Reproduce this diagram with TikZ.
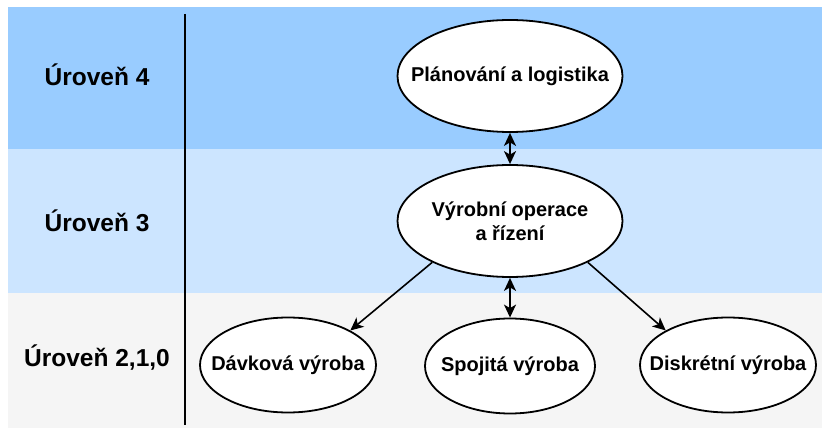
\documentclass[tikz,border=0pt]{standalone}
\usepackage{fontspec}
\setmainfont{Liberation Sans}
\usetikzlibrary{shapes.geometric,arrows.meta}
\definecolor{bandtop}{HTML}{99CCFF}
\definecolor{bandmid}{HTML}{CCE5FF}
\definecolor{bandlow}{HTML}{F5F5F5}
\tikzset{
  levellabel/.style={font=\bfseries\fontsize{24.5}{28}\selectfont, anchor=center},
  unit/.style={ellipse, draw=black, line width=1.8pt, fill=white, inner sep=0pt},
  unittext/.style={align=center, inner sep=0pt, font=\bfseries\fontsize{20}{24}\selectfont},
  >={Stealth[length=13pt,width=12pt,inset=3.5pt]},
  link/.style={line width=1.6pt, ->},
  duplex/.style={line width=1.6pt, <->},
}
\begin{document}
\begin{tikzpicture}[x=1pt,y=-1pt]
  \useasboundingbox (0,0) rectangle (822,430);
  % level bands
  \fill[bandtop] (8,7) rectangle (822,149);
  \fill[bandmid] (8,149) rectangle (822,293);
  \fill[bandlow] (8,293) rectangle (822,428);
  % separator between labels and diagram
  \coordinate (septop) at (185,14);
  \coordinate (sepbot) at (185,425);
  \draw[line width=1.6pt] (septop) -- (sepbot);
  % level labels
  \node[levellabel] (l4) at (97,75) {Úroveň 4};
  \node[levellabel] (l3) at (97,221) {Úroveň 3};
  \node[levellabel] (l2) at (97,358) {Úroveň 2,1,0};
  % units
  \node[unit, minimum width=225pt, minimum height=112pt] (plan) at (510,76) {};
  \node[unit, minimum width=225pt, minimum height=112pt] (ops) at (510,221) {};
  \node[unit, minimum width=176pt, minimum height=95pt] (batch) at (288,365) {};
  \node[unit, minimum width=170pt, minimum height=95pt] (cont) at (510,366) {};
  \node[unit, minimum width=176pt, minimum height=95pt] (disc) at (728,365) {};
  \node[unittext] (plantext) at (plan) {Plánování a logistika};
  \node[unittext] (opstext) at (ops) {Výrobní operace\\a řízení};
  \node[unittext] (batchtext) at (batch) {Dávková výroba};
  \node[unittext] (conttext) at (cont) {Spojitá výroba};
  \node[unittext] (disctext) at (disc) {Diskrétní výroba};
  % connectors
  \draw[duplex] (plan.south) -- (ops.north);
  \draw[duplex] (ops.south) -- (cont.north);
  \draw[link] (ops.208) -- (batch.29);
  \draw[link] (ops.332) -- (disc.151);
\end{tikzpicture}
\end{document}
